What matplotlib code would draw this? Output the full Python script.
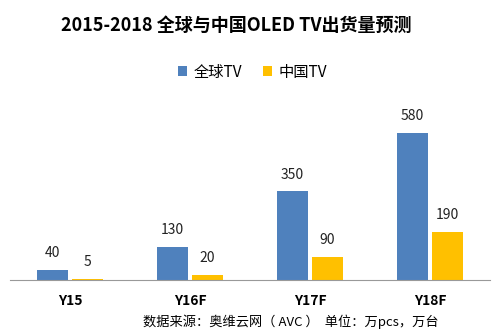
import numpy as np
import matplotlib.pyplot as plt

plt.rcParams['font.family'] = ['Noto Sans CJK SC', 'DejaVu Sans']

categories = ['Y15', 'Y16F', 'Y17F', 'Y18F']
global_tv = [40, 130, 350, 580]
china_tv = [5, 20, 90, 190]

fig = plt.figure(figsize=(5, 3.36), dpi=100)
ax = fig.add_axes([0.02, 1 - 280 / 336, 0.96, 185 / 336])

x = np.arange(len(categories))
w = 0.265
b1 = ax.bar(x - w / 2 - 0.013, global_tv, w, color='#4F81BD', label='全球TV')
b2 = ax.bar(x + w / 2 + 0.013, china_tv, w, color='#FFC000', label='中国TV')

for bars, vals in [(b1, global_tv), (b2, china_tv)]:
    for bar, v in zip(bars, vals):
        ax.annotate(str(v), (bar.get_x() + bar.get_width() / 2, bar.get_height()),
                    xytext=(0, 7), textcoords='offset points',
                    ha='center', va='bottom', fontsize=10, color='#222222')

ax.set_xlim(-0.5, 3.5)
ax.set_ylim(0, 730)
ax.set_yticks([])
ax.set_xticks(x)
ax.set_xticklabels(categories, fontsize=10, fontweight='bold')
ax.tick_params(axis='x', length=0, pad=10)
for s in ['top', 'left', 'right']:
    ax.spines[s].set_visible(False)
ax.spines['bottom'].set_color('#999999')

fig.text(0.472, 1 - 25 / 336, '2015-2018 全球与中国OLED TV出货量预测',
         ha='center', va='center', fontsize=13, fontweight='bold')
fig.legend(handles=[b1, b2], loc='center', bbox_to_anchor=(0.505, 1 - 72 / 336),
           ncol=2, frameon=False, fontsize=11, handlelength=0.6, handleheight=0.6,
           handletextpad=0.4, columnspacing=1.4)
fig.text(0.582, 1 - 322 / 336, '数据来源：奥维云网（ AVC ）  单位：万pcs，万台',
         ha='center', va='center', fontsize=9.5)

fig.savefig('out.png')
